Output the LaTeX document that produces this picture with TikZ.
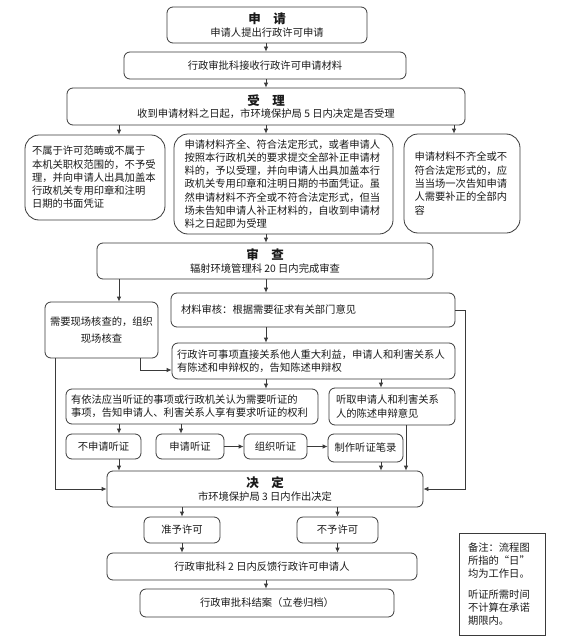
\documentclass[tikz,border=0pt]{standalone}
\usepackage{fontspec}
\setmainfont{Noto Sans CJK SC}
\usetikzlibrary{arrows.meta}
\definecolor{bordc}{HTML}{3A3A3A}
\definecolor{txtc}{HTML}{1A1A1A}
\newcommand\fsz{\fontsize{10.3}{13.3}\selectfont}
\newcommand\ttl{\fontsize{12.5}{13}\selectfont\bfseries}
\tikzset{
  box/.style={draw=bordc, line width=0.8pt, rounded corners=6pt, inner sep=0pt,
    font=\fsz, text=txtc, align=center},
  bigr/.style={box, rounded corners=14pt},
  lbox/.style={box, align=left},
  lbig/.style={bigr, align=left},
  notebox/.style={draw=bordc, line width=0.8pt, inner sep=0pt, font=\fsz, text=txtc, align=left},
  arr/.style={draw=bordc, line width=0.8pt, -{Latex[length=5pt,width=4.5pt]}},
}
\begin{document}
\begin{tikzpicture}[x=1pt,y=-1pt]
\useasboundingbox (0,0) rectangle (560,642);
\fill[white] (0,0) rectangle (560,642);
% columns / rows
\coordinate (c55) at (55,0);
\coordinate (c119) at (119,0);
\coordinate (c140) at (140,0);
\coordinate (c181) at (181,0);
\coordinate (c266) at (266,0);
\coordinate (c381) at (381,0);
\coordinate (c406) at (406,0);
\coordinate (c454) at (454,0);
\coordinate (r370) at (0,370);
\coordinate (rr) at (465,489);

\node[box, minimum width=200pt, minimum height=36pt] (apply) at (267,25)
  {{\ttl 申　请}\\[-1pt]申请人提出行政许可申请};
\node[box, minimum width=282pt, minimum height=27pt] (recv) at (265,65.5)
  {行政审批科接收行政许可申请材料};
\node[box, minimum width=398pt, minimum height=37pt] (accept) at (266,106.5)
  {{\ttl 受　理}\\[-1pt]收到申请材料之日起，市环境保护局 5 日内决定是否受理};

\node[lbig, minimum width=140pt, minimum height=85pt, text width=126pt] (rej) at (95,177.5)
  {不属于许可范畴或不属于\\本机关职权范围的，不予受\\理，并向申请人出具加盖本\\行政机关专用印章和注明\\日期的书面凭证};
\node[lbig, minimum width=219pt, minimum height=100pt, text width=198pt] (ok) at (283.5,184)
  {申请材料齐全、符合法定形式，或者申请人\\按照本行政机关的要求提交全部补正申请材\\料的，予以受理，并向申请人出具加盖本行\\政机关专用印章和注明日期的书面凭证。虽\\然申请材料不齐全或不符合法定形式，但当\\场未告知申请人补正材料的，自收到申请材\\料之日起即为受理};
\node[lbig, minimum width=116pt, minimum height=99pt, text width=95pt] (inc) at (462,183.5)
  {申请材料不齐全或不\\符合法定形式的，应\\当当场一次告知申请\\人需要补正的全部内\\容\\[4pt]};

\node[box, minimum width=336pt, minimum height=36pt] (review) at (265,261)
  {{\ttl 审　查}\\[-1pt]辐射环境管理科 20 日内完成审查};
\node[box, minimum width=113pt, minimum height=56pt] (site) at (101.5,330)
  {需要现场核查的，组织\\[3.7pt]现场核查};
\node[lbox, minimum width=284pt, minimum height=34pt, text width=264pt] (mat) at (313,310)
  {材料审核：根据需要征求有关部门意见};
\node[lbox, minimum width=283pt, minimum height=36pt, text width=273pt] (state) at (313.5,361)
  {行政许可事项直接关系他人重大利益，申请人和利害关系人\\有陈述和申辩权的，告知陈述申辩权\\[1pt]};
\node[lbox, minimum width=252pt, minimum height=35pt, text width=242pt] (hnote) at (192,406.5)
  {有依法应当听证的事项或行政机关认为需要听证的\\事项，告知申请人、利害关系人享有要求听证的权利};
\node[lbox, minimum width=126pt, minimum height=37pt, text width=112pt] (listen) at (392,406.5)
  {听取申请人和利害关系\\人的陈述申辩意见};

\node[box, minimum width=75pt, minimum height=25pt] (nohear) at (103.5,446.5) {不申请听证};
\node[box, minimum width=68pt, minimum height=25pt] (hear) at (190,446.5) {申请听证};
\node[box, minimum width=63pt, minimum height=25pt] (org) at (275.5,446.5) {组织听证};
\node[box, minimum width=75pt, minimum height=28pt] (record) at (365.5,448) {制作听证笔录};

\node[box, minimum width=316pt, minimum height=36pt] (decide) at (265,489)
  {{\ttl 决　定}\\[-1pt]市环境保护局 3 日内作出决定};
\node[box, minimum width=76pt, minimum height=26pt] (grant) at (182,530) {准予许可};
\node[box, minimum width=81pt, minimum height=26pt] (deny) at (337.5,530) {不予许可};
\node[box, minimum width=310pt, minimum height=27pt] (fb) at (262,566.5)
  {行政审批科 2 日内反馈行政许可申请人};
\node[box, minimum width=254pt, minimum height=28pt] (close) at (267,603)
  {行政审批科结案（立卷归档）};

\node[notebox, minimum width=86pt, minimum height=102pt, text width=68pt] (note) at (502,584)
  {备注：流程图\\所指的“日”\\均为工作日。\\[7pt]听证所需时间\\不计算在承诺\\期限内。};

% connectors
\draw[arr] (apply.south -| c266) -- (recv.north -| c266);
\draw[arr] (recv.south -| c266) -- (accept.north -| c266);
\draw[arr] (accept.south -| c119) -- (rej.north -| c119);
\draw[arr] (accept.south -| c266) -- (ok.north -| c266);
\draw[arr] (accept.south -| c454) -- (inc.north -| c454);
\draw[arr] (ok.south -| c266) -- (review.north -| c266);
\draw[arr] (review.south -| c119) -- (site.north -| c119);
\draw[arr] (review.south -| c266) -- (mat.north -| c266);
\draw[arr] (mat.south -| c266) -- (state.north -| c266);
\draw[arr] (site.south -| c140) |- (state.west |- r370);
\draw[arr] (site.south -| c55) |- (decide.west);
\draw[arr] (mat.east) -| (rr) -- (decide.east);
\draw[arr] (state.south -| c266) -- (hnote.north -| c266);
\draw[arr] (state.south -| c381) -- (listen.north -| c381);
\draw[arr] (hnote.south -| c119) -- (nohear.north -| c119);
\draw[arr] (hnote.south -| c181) -- (hear.north -| c181);
\draw[arr] (hear.east) -- (org.west);
\draw[arr] (org.east) -- (record.west |- org.east);
\draw[arr] (nohear.south -| c119) -- (decide.north -| c119);
\draw[arr] (record.south -| c381) -- (decide.north -| c381);
\draw[arr] (listen.south -| c406) -- (decide.north -| c406);
\draw[arr] (decide.south -| grant) -- (grant.north);
\draw[arr] (decide.south -| deny) -- (deny.north);
\draw[arr] (grant.south) -- (fb.north -| grant);
\draw[arr] (deny.south) -- (fb.north -| deny);
\draw[arr] (fb.south -| c266) -- (close.north -| c266);
\end{tikzpicture}
\end{document}
